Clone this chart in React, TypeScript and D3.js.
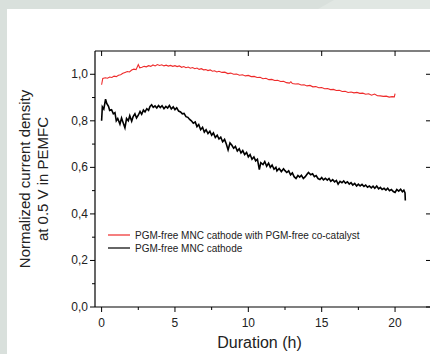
import * as d3 from "d3";
import React from "react";

// hours vs normalized current density
const coCatalyst: [number, number][] = [
  [0, 0.955], [0.08, 0.982], [0.25, 0.985], [0.4, 0.983], [0.55, 0.988], [0.7, 0.986],
  [0.85, 0.992], [1.0, 0.99], [1.15, 0.996], [1.3, 0.998], [1.45, 1.004], [1.6, 1.008],
  [1.75, 1.012], [1.9, 1.01], [2.05, 1.018], [2.2, 1.022], [2.35, 1.02], [2.5, 1.042],
  [2.6, 1.028], [2.75, 1.03], [2.9, 1.034], [3.05, 1.032], [3.2, 1.037], [3.35, 1.034],
  [3.5, 1.04], [3.65, 1.036], [3.8, 1.042], [3.95, 1.038], [4.1, 1.041], [4.25, 1.036],
  [4.4, 1.039], [4.55, 1.035], [4.7, 1.038], [4.85, 1.034], [5.0, 1.037], [5.15, 1.033],
  [5.3, 1.036], [5.45, 1.03], [5.6, 1.033], [5.75, 1.028], [5.9, 1.031], [6.05, 1.026],
  [6.2, 1.029], [6.35, 1.024], [6.5, 1.027], [6.65, 1.021], [6.8, 1.024], [6.95, 1.019],
  [7.1, 1.02], [7.25, 1.016], [7.4, 1.019], [7.55, 1.013], [7.7, 1.015], [7.85, 1.01],
  [8.0, 1.013], [8.2, 1.008], [8.4, 1.009], [8.6, 1.003], [8.8, 1.005], [9.0, 1.0],
  [9.2, 1.001], [9.4, 0.996], [9.6, 0.998], [9.8, 0.993], [10.0, 0.995], [10.2, 0.99],
  [10.4, 0.991], [10.6, 0.986], [10.8, 0.987], [11.0, 0.981], [11.2, 0.983], [11.4, 0.977],
  [11.6, 0.978], [11.8, 0.973], [12.0, 0.974], [12.2, 0.969], [12.4, 0.97], [12.6, 0.964],
  [12.8, 0.962], [12.9, 0.968], [13.0, 0.96], [13.2, 0.958], [13.4, 0.959], [13.6, 0.954],
  [13.8, 0.955], [14.0, 0.95], [14.2, 0.952], [14.4, 0.946], [14.6, 0.947], [14.8, 0.942],
  [15.0, 0.943], [15.2, 0.938], [15.4, 0.939], [15.6, 0.934], [15.8, 0.935], [16.0, 0.93],
  [16.2, 0.931], [16.4, 0.926], [16.6, 0.927], [16.8, 0.922], [17.0, 0.924], [17.2, 0.92],
  [17.4, 0.922], [17.6, 0.918], [17.8, 0.919], [18.0, 0.914], [18.2, 0.916], [18.4, 0.91],
  [18.6, 0.915], [18.8, 0.908], [19.0, 0.907], [19.2, 0.905], [19.4, 0.906], [19.6, 0.902],
  [19.8, 0.904], [19.95, 0.903], [20.0, 0.917],
];

const mncOnly: [number, number][] = [
  [0, 0.8], [0.05, 0.86], [0.15, 0.85], [0.27, 0.893], [0.35, 0.875], [0.47, 0.862],
  [0.55, 0.845], [0.68, 0.848], [0.8, 0.83], [0.91, 0.835], [1.0, 0.8], [1.1, 0.81],
  [1.25, 0.786], [1.36, 0.812], [1.45, 0.795], [1.59, 0.77], [1.7, 0.81], [1.82, 0.8],
  [1.92, 0.822], [2.05, 0.798], [2.15, 0.818], [2.27, 0.83], [2.38, 0.812], [2.5, 0.824],
  [2.62, 0.84], [2.73, 0.828], [2.85, 0.846], [2.96, 0.838], [3.08, 0.852], [3.2, 0.845],
  [3.3, 0.862], [3.41, 0.869], [3.52, 0.858], [3.64, 0.864], [3.76, 0.855], [3.88, 0.866],
  [4.0, 0.857], [4.12, 0.865], [4.25, 0.852], [4.38, 0.862], [4.5, 0.855], [4.62, 0.866],
  [4.75, 0.851], [4.88, 0.86], [5.0, 0.848], [5.12, 0.856], [5.25, 0.842], [5.38, 0.838],
  [5.5, 0.83], [5.62, 0.832], [5.75, 0.818], [5.88, 0.815], [6.0, 0.806], [6.12, 0.8],
  [6.25, 0.79], [6.38, 0.795], [6.5, 0.775], [6.62, 0.784], [6.75, 0.762], [6.88, 0.772],
  [7.0, 0.752], [7.12, 0.762], [7.25, 0.745], [7.38, 0.755], [7.5, 0.738], [7.62, 0.748],
  [7.75, 0.728], [7.88, 0.738], [8.0, 0.722], [8.12, 0.73], [8.25, 0.71], [8.38, 0.72],
  [8.5, 0.7], [8.62, 0.675], [8.75, 0.705], [8.88, 0.695], [9.0, 0.682], [9.12, 0.69],
  [9.25, 0.67], [9.38, 0.68], [9.5, 0.662], [9.62, 0.672], [9.75, 0.655], [9.88, 0.664],
  [10.0, 0.645], [10.12, 0.655], [10.25, 0.635], [10.38, 0.645], [10.5, 0.628], [10.62, 0.635],
  [10.75, 0.59], [10.85, 0.62], [11.0, 0.612], [11.12, 0.625], [11.25, 0.605], [11.38, 0.618],
  [11.5, 0.6], [11.62, 0.61], [11.75, 0.592], [11.88, 0.6], [11.95, 0.585], [12.1, 0.595],
  [12.25, 0.582], [12.4, 0.594], [12.5, 0.586], [12.62, 0.578], [12.75, 0.585], [12.88, 0.568],
  [13.0, 0.576], [13.12, 0.56], [13.25, 0.552], [13.38, 0.565], [13.5, 0.558], [13.62, 0.566],
  [13.75, 0.552], [13.88, 0.56], [14.0, 0.57], [14.1, 0.578], [14.25, 0.568], [14.38, 0.572],
  [14.5, 0.56], [14.62, 0.565], [14.75, 0.552], [14.88, 0.548], [15.0, 0.556], [15.12, 0.546],
  [15.25, 0.553], [15.38, 0.545], [15.5, 0.552], [15.62, 0.54], [15.75, 0.547], [15.88, 0.538],
  [16.0, 0.544], [16.12, 0.528], [16.25, 0.54], [16.38, 0.534], [16.5, 0.542], [16.62, 0.532],
  [16.75, 0.538], [16.88, 0.528], [17.0, 0.534], [17.12, 0.524], [17.25, 0.531], [17.38, 0.52],
  [17.5, 0.528], [17.62, 0.52], [17.75, 0.527], [17.88, 0.518], [18.0, 0.524], [18.12, 0.515],
  [18.25, 0.52], [18.38, 0.512], [18.5, 0.519], [18.62, 0.51], [18.75, 0.52], [18.88, 0.508],
  [19.0, 0.514], [19.12, 0.505], [19.25, 0.51], [19.38, 0.502], [19.5, 0.51], [19.62, 0.5],
  [19.75, 0.505], [19.88, 0.496], [20.0, 0.492], [20.12, 0.505], [20.25, 0.498], [20.38, 0.506],
  [20.5, 0.495], [20.6, 0.502], [20.68, 0.49], [20.7, 0.458],
];

const xTicks = [0, 5, 10, 15, 20];
const xMinor = [2.5, 7.5, 12.5, 17.5];
const yTicks = [0, 0.2, 0.4, 0.6, 0.8, 1.0];
const yMinor = [0.1, 0.3, 0.5, 0.7, 0.9];
const legendLabels = [
  "PGM-free MNC cathode with PGM-free co-catalyst",
  "PGM-free MNC cathode",
];
const colors = ["#ee2b2b", "#000000"];

const W = 430;
const H = 354;
const margin = { top: 51, right: -1, bottom: 47, left: 95 };
const font = "'Liberation Sans', Arial, sans-serif";

export default function App() {
  const x = d3
    .scaleLinear()
    .domain([-0.45, 22.45])
    .range([margin.left, W - margin.right]);
  const y = d3
    .scaleLinear()
    .domain([0, 1.1])
    .range([H - margin.bottom, margin.top]);

  const line = d3
    .line<[number, number]>()
    .x((d) => x(d[0]))
    .y((d) => y(d[1]));

  const x0 = x.range()[0];
  const x1 = x.range()[1];
  const yb = y.range()[0];
  const yt = y.range()[1];

  return (
    <svg
      width={W}
      height={H}
      style={{ position: "absolute", left: 0, top: 0 }}
      fontFamily={font}
    >
      <rect x={0} y={0} width={W} height={H} fill="#d9e0dc" />
      <polygon points="318,9 334,0 430,0 430,9" fill="#e1e7e3" />
      <rect x={7} y={9} width={W - 7} height={H - 9} fill="#ffffff" />

      {/* frame */}
      <g stroke="#000" strokeWidth={1.2} fill="none">
        <line x1={x0} x2={x0} y1={yt} y2={yb} />
        <line x1={x0} x2={x1} y1={yb} y2={yb} />
        <line x1={x0} x2={x1} y1={yt} y2={yt} />
        <line x1={x1} x2={x1} y1={yt} y2={yb} />
      </g>

      {/* bottom + top ticks */}
      <g stroke="#000" strokeWidth={1}>
        {xTicks.map((t) => (
          <g key={"xt" + t}>
            <line x1={x(t)} x2={x(t)} y1={yb} y2={yb + 5} />
            <line x1={x(t)} x2={x(t)} y1={yt} y2={yt + 5} />
          </g>
        ))}
        {xMinor.map((t) => (
          <line key={"xm" + t} x1={x(t)} x2={x(t)} y1={yb} y2={yb + 3} />
        ))}
        {yTicks.map((t) => (
          <g key={"yt" + t}>
            <line x1={x0 - 5} x2={x0} y1={y(t)} y2={y(t)} />
            <line x1={x1 - 5} x2={x1} y1={y(t)} y2={y(t)} />
          </g>
        ))}
        {yMinor.map((t) => (
          <line key={"ym" + t} x1={x0 - 3} x2={x0} y1={y(t)} y2={y(t)} />
        ))}
      </g>

      <g fontSize={12} fill="#222">
        {xTicks.map((t) => (
          <text key={"xl" + t} x={x(t)} y={yb + 20} textAnchor="middle">
            {t}
          </text>
        ))}
        {yTicks.map((t) => (
          <text key={"yl" + t} x={x0 - 7} y={y(t) + 4} textAnchor="end">
            {t.toFixed(1).replace(".", ",")}
          </text>
        ))}
      </g>

      {/* series */}
      <path d={line(mncOnly) || ""} fill="none" stroke={colors[1]} strokeWidth={1.6} />
      <path d={line(coCatalyst) || ""} fill="none" stroke={colors[0]} strokeWidth={1.1} />

      {/* legend */}
      <g fontSize={10} fill="#222">
        {legendLabels.map((lab, i) => (
          <g key={lab} transform={`translate(108,${235 + i * 13})`}>
            <line x1={0} x2={22} y1={0} y2={0} stroke={colors[i]} strokeWidth={1.2} />
            <text x={27} y={3.5}>
              {lab}
            </text>
          </g>
        ))}
      </g>

      {/* axis titles */}
      <text
        x={(x0 + 430) / 2 - 3}
        y={348}
        textAnchor="middle"
        fontSize={16}
        fill="#222"
      >
        Duration (h)
      </text>
      <g transform={`translate(0,${(yt + yb) / 2}) rotate(-90)`} fontSize={15} fill="#222">
        <text x={0} y={30} textAnchor="middle">
          Normalized current density
        </text>
        <text x={0} y={48} textAnchor="middle">
          at 0.5 V in PEMFC
        </text>
      </g>
    </svg>
  );
}
